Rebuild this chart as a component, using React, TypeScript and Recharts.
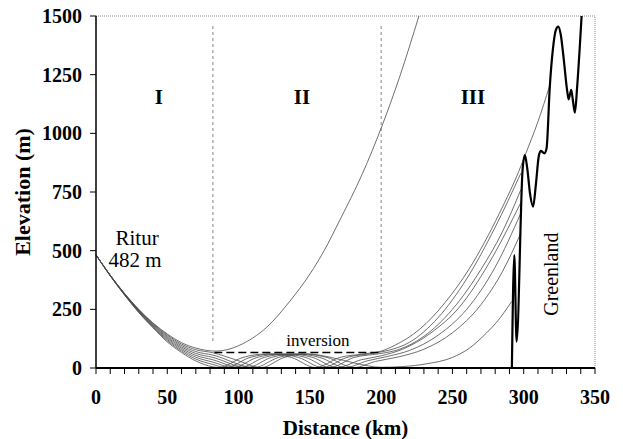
import React from 'react';
import { LineChart, Line, XAxis, YAxis, ReferenceLine, ReferenceDot, Label } from 'recharts';

type Pt = { x: number; y: number };
const toPts = (arr: number[][]): Pt[] => arr.map(([x, y]) => ({ x, y }));

// Upper (escaping) ray from Ritur
const mainRay = toPts([
  [0, 482], [10, 395], [20, 318], [30, 250], [40, 192], [50, 145], [60, 108], [70, 85], [84, 72],
  [92, 78], [100, 95], [110, 128], [120, 175], [136, 285], [150, 400], [160, 500], [171, 630],
  [187, 830], [200, 1022], [213, 1241], [226.5, 1500],
]);

// Ducted rays (k1 highest at 82 km ... k7 lowest)
const ray1 = toPts([
  [0, 482], [10, 395], [20, 317], [30, 248], [40, 189], [50, 141], [60, 102], [70, 78], [82, 65],
  [98, 35], [116, 2], [132, 45], [148, 60], [165, 45], [182, 20], [200, 3], [215, 6], [232, 18],
  [250, 45], [262, 85], [274, 150], [281, 195], [291.5, 283],
]);
const ray2 = toPts([
  [0, 482], [10, 395], [20, 316], [30, 246], [40, 186], [50, 136], [60, 96], [70, 70], [82, 55],
  [111, 2], [128, 45], [145, 60], [162, 45], [181, 2], [196, 28], [212, 47], [230, 80], [250, 150],
  [270, 270], [285, 410], [298, 575],
]);
const ray3 = toPts([
  [0, 482], [10, 394], [20, 315], [30, 244], [40, 183], [50, 131], [60, 90], [70, 62], [82, 45],
  [106, 2], [123, 45], [140, 60], [157, 45], [175, 2], [190, 30], [205, 50], [220, 75], [240, 140],
  [260, 250], [280, 430], [298, 660],
]);
const ray4 = toPts([
  [0, 482], [10, 394], [20, 314], [30, 242], [40, 180], [50, 126], [60, 84], [70, 54], [82, 35],
  [101, 2], [118, 45], [135, 60], [152, 45], [169, 2], [186, 35], [200, 52], [215, 80], [235, 150],
  [255, 260], [275, 440], [298, 705],
]);
const ray5 = toPts([
  [0, 482], [10, 393], [20, 313], [30, 240], [40, 177], [50, 121], [60, 78], [70, 46], [82, 25],
  [96, 2], [113, 45], [130, 60], [147, 45], [164, 2], [181, 45], [200, 62], [212, 78], [230, 135],
  [250, 250], [270, 420], [285, 580], [298, 760],
]);
const ray6 = toPts([
  [0, 482], [10, 393], [20, 312], [30, 238], [40, 174], [50, 116], [60, 72], [70, 38], [82, 15],
  [91, 2], [108, 45], [125, 60], [142, 45], [159, 2], [176, 45], [194, 62], [205, 75], [220, 110],
  [240, 215], [260, 380], [280, 600], [298, 830],
]);
const ray7 = toPts([
  [0, 482], [10, 392], [20, 311], [30, 236], [40, 171], [50, 111], [60, 66], [70, 30], [82, 5],
  [86, 2], [103, 45], [120, 60], [137, 45], [154, 2], [171, 45], [188, 60], [200, 72], [210, 98],
  [227, 165], [245, 280], [262, 425], [283, 660], [298, 860], [301, 907], [310, 1050], [318, 1199],
]);
const ducted = [ray1, ray2, ray3, ray4, ray5, ray6, ray7];

// Greenland terrain profile
const terrain = toPts([
  [291.7, 0], [293.4, 481], [295, 112], [299.2, 844], [300.8, 907], [302.5, 850], [304.5, 740],
  [306.6, 688], [308.5, 780], [310.5, 900], [312, 925], [314.5, 915], [316, 935], [318.3, 1199],
  [320.5, 1360], [322.5, 1440], [324.2, 1455], [326, 1420], [328, 1320], [330.5, 1180],
  [331.5, 1145], [333.3, 1185], [334.5, 1140], [335.9, 1088], [337.5, 1200], [340.6, 1500],
]);

// Inversion top
const inversion = toPts([[83, 66], [199, 66]]);

const xTicks = [0, 10, 20, 30, 40, 50, 60, 70, 80, 90, 100, 110, 120, 130, 140, 150, 160, 170, 180,
  190, 200, 210, 220, 230, 240, 250, 260, 270, 280, 290, 300, 310, 320, 330, 340, 350];
const xLabels = [0, 50, 100, 150, 200, 250, 300, 350];
const yTicks = [0, 250, 500, 750, 1000, 1250, 1500];
const regionBounds = [82, 200];

const FF = "'Liberation Serif', 'DejaVu Serif', serif";
const RAY = '#4a4a4a';

export default function App() {
  return (
    <div style={{ position: 'absolute', left: 0, top: 0 }}>
      <LineChart width={623} height={439} margin={{ top: 16, right: 28, left: 0, bottom: 0 }}>
        <XAxis
          type="number"
          dataKey="x"
          domain={[0, 350]}
          ticks={xTicks}
          interval={0}
          tickFormatter={(v: number) => (xLabels.includes(v) ? String(v) : '')}
          height={71}
          tickSize={6}
          tickMargin={16}
          axisLine={{ stroke: '#000', strokeWidth: 2 }}
          tickLine={{ stroke: '#000', strokeWidth: 1 }}
          tick={{ fill: '#000', fontSize: 20, fontWeight: 'bold', fontFamily: FF }}
        >
          <Label value="Distance (km)" position="insideBottom" offset={4}
            style={{ fontSize: 21, fontWeight: 'bold', fontFamily: FF, fill: '#000' }} />
        </XAxis>
        <YAxis
          type="number"
          dataKey="y"
          domain={[0, 1500]}
          ticks={yTicks}
          interval={0}
          width={96}
          tickSize={6}
          tickMargin={8}
          axisLine={{ stroke: '#000', strokeWidth: 1.5 }}
          tickLine={{ stroke: '#000', strokeWidth: 1 }}
          tick={{ fill: '#000', fontSize: 20, fontWeight: 'bold', fontFamily: FF }}
        >
          <Label value="Elevation (m)" angle={-90} position="insideLeft" offset={22}
            style={{ textAnchor: 'middle', fontSize: 22, fontWeight: 'bold', fontFamily: FF, fill: '#000' }} />
        </YAxis>

        <ReferenceLine y={1500} stroke="#888" strokeDasharray="1 1" />
        <ReferenceLine x={350} stroke="#888" strokeDasharray="1 1" />
        {regionBounds.map((b) => (
          <ReferenceLine key={b} segment={[{ x: b, y: 115 }, { x: b, y: 1460 }]} stroke="#666" strokeWidth={0.8} strokeDasharray="3 3" />
        ))}

        <Line data={mainRay} dataKey="y" type="monotone" stroke={RAY} strokeWidth={0.8} dot={false} isAnimationActive={false} />
        {ducted.map((r, i) => (
          <Line key={i} data={r} dataKey="y" type="monotone" stroke={RAY} strokeWidth={0.8} dot={false} isAnimationActive={false} />
        ))}
        <Line data={inversion} dataKey="y" type="linear" stroke="#000" strokeWidth={1.6} strokeDasharray="8 4" dot={false} isAnimationActive={false} />
        <Line data={terrain} dataKey="y" type="monotone" stroke="#000" strokeWidth={2.2} dot={false} isAnimationActive={false} />

        <ReferenceDot x={44} y={1155} r={1} fill="none" stroke="none"
          label={{ value: 'I', position: 'center', fontSize: 21, fontWeight: 'bold', fontFamily: FF, fill: '#000' }} />
        <ReferenceDot x={144.5} y={1155} r={1} fill="none" stroke="none"
          label={{ value: 'II', position: 'center', fontSize: 21, fontWeight: 'bold', fontFamily: FF, fill: '#000' }} />
        <ReferenceDot x={264.4} y={1155} r={1} fill="none" stroke="none"
          label={{ value: 'III', position: 'center', fontSize: 21, fontWeight: 'bold', fontFamily: FF, fill: '#000' }} />
        <ReferenceDot x={28.8} y={558} r={1} fill="none" stroke="none"
          label={{ value: 'Ritur', position: 'center', fontSize: 21, fontFamily: FF, fill: '#000' }} />
        <ReferenceDot x={27.3} y={464} r={1} fill="none" stroke="none"
          label={{ value: '482 m', position: 'center', fontSize: 21, fontFamily: FF, fill: '#000' }} />
        <ReferenceDot x={155.7} y={118} r={1} fill="none" stroke="none"
          label={{ value: 'inversion', position: 'center', fontSize: 17, fontFamily: FF, fill: '#000' }} />
        <ReferenceDot x={319} y={400} r={1} fill="none" stroke="none"
          label={{ value: 'Greenland', position: 'center', angle: -90, fontSize: 20, fontFamily: FF, fill: '#000' }} />
      </LineChart>
    </div>
  );
}
